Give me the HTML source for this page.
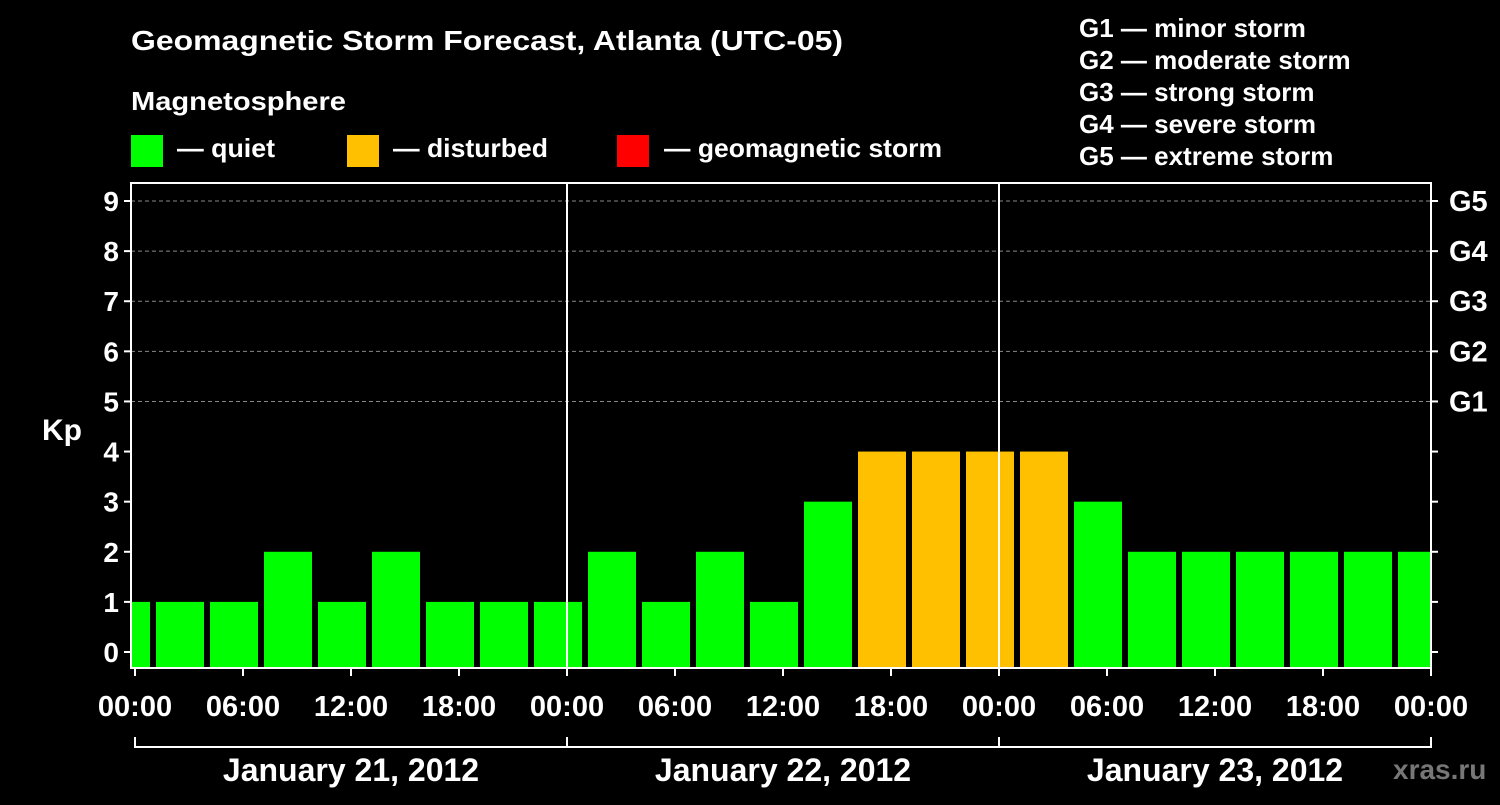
<!DOCTYPE html>
<html><head><meta charset="utf-8"><style>
body{margin:0;background:#000;width:1500px;height:800px;overflow:hidden}
svg text{font-family:"Liberation Sans",Arial,sans-serif;font-weight:bold;fill:#fff}
</style></head><body>
<svg id="c" width="1500" height="800">
<text x="131" y="50" font-size="28" textLength="712" lengthAdjust="spacingAndGlyphs">Geomagnetic Storm Forecast, Atlanta (UTC-05)</text>
<text x="131" y="110" font-size="26" textLength="215" lengthAdjust="spacingAndGlyphs">Magnetosphere</text>
<g><rect x="131" y="135" width="32" height="32" fill="#00ff00"/><text x="177" y="157" font-size="26" textLength="98" lengthAdjust="spacingAndGlyphs">— quiet</text></g>
<g><rect x="347" y="135" width="32" height="32" fill="#ffc000"/><text x="393" y="157" font-size="26" textLength="155" lengthAdjust="spacingAndGlyphs">— disturbed</text></g>
<g><rect x="617" y="135" width="32" height="32" fill="#ff0000"/><text x="664" y="157" font-size="26" textLength="278" lengthAdjust="spacingAndGlyphs">— geomagnetic storm</text></g>
<g font-size="26">
<text x="1079" y="37">G1 — minor storm</text><text x="1079" y="69">G2 — moderate storm</text><text x="1079" y="101">G3 — strong storm</text><text x="1079" y="133">G4 — severe storm</text><text x="1079" y="165">G5 — extreme storm</text></g>
<text x="42" y="440" font-size="30">Kp</text>
<text x="1393" y="779" font-size="28" style="fill:#777">xras.ru</text>
<g id="g"></g>
</svg>
<script>
const kpValues=[1,1,1,2,1,2,1,1,1,2,1,2,1,3,4,4,4,4,3,2,2,2,2,2,2];
const xTicks=["00:00","06:00","12:00","18:00","00:00","06:00","12:00","18:00","00:00","06:00","12:00","18:00","00:00"];
const dayLabels=["January 21, 2012","January 22, 2012","January 23, 2012"];
const gLabels=["G1","G2","G3","G4","G5"];
const NS="http://www.w3.org/2000/svg",g=document.getElementById('g');
const L=131,R=1431,T=183,B=668,x0=135,pxH=18;
const X=h=>x0+h*pxH, Y=v=>652-v*50.11;
function mk(t,a,p){const e=document.createElementNS(NS,t);for(const k in a)e.setAttribute(k,a[k]);(p||g).appendChild(e);return e;}
const clip=mk('clipPath',{id:'pc'});mk('rect',{x:L,y:T,width:R-L,height:B-T},clip);
for(let v=5;v<=9;v++){const l=mk('line',{x1:L,x2:R,y1:Y(v),y2:Y(v),stroke:'#888','stroke-dasharray':'4,3'});

}
const bg=mk('g',{'clip-path':'url(#pc)'});
kpValues.forEach((v,i)=>{const c=-0.5+3*i;const r=mk('rect',{x:X(c-1.5)+3,width:3*pxH-6,y:Y(v),height:B-Y(v),fill:v>=5?'#ff0000':v>=4?'#ffc000':'#00ff00'},bg);

});
[24,48].forEach(h=>{const l=mk('line',{x1:X(h),x2:X(h),y1:T,y2:B,stroke:'#fff','stroke-width':2});

});
const f=mk('rect',{x:L,y:T,width:R-L,height:B-T,fill:'none',stroke:'#fff','stroke-width':2});


for(let v=0;v<=9;v++){mk('line',{x1:L-7,x2:L,y1:Y(v),y2:Y(v),stroke:'#fff','stroke-width':2});mk('line',{x1:R,x2:R+7,y1:Y(v),y2:Y(v),stroke:'#fff','stroke-width':2});
const t=mk('text',{x:L-12,y:Y(v)+10,'font-size':28,'text-anchor':'end'});t.textContent=v;

}
gLabels.forEach((s,i)=>{const t=mk('text',{x:1449,y:Y(5+i)+10,'font-size':29});t.textContent=s;

});
xTicks.forEach((s,i)=>{const x=X(i*6);mk('line',{x1:x,x2:x,y1:B,y2:B+8,stroke:'#fff','stroke-width':2});
const t=mk('text',{x:x,y:716,'font-size':29,'text-anchor':'middle'});t.textContent=s;

});
mk('line',{x1:X(0),x2:X(72),y1:747,y2:747,stroke:'#fff','stroke-width':2});
[0,24,48,72].forEach(h=>mk('line',{x1:X(h),x2:X(h),y1:737,y2:748,stroke:'#fff','stroke-width':2}));
dayLabels.forEach((s,i)=>{const t=mk('text',{x:X(12+24*i),y:781,'font-size':32,'text-anchor':'middle'});t.textContent=s;

});
</script>
</body></html>
